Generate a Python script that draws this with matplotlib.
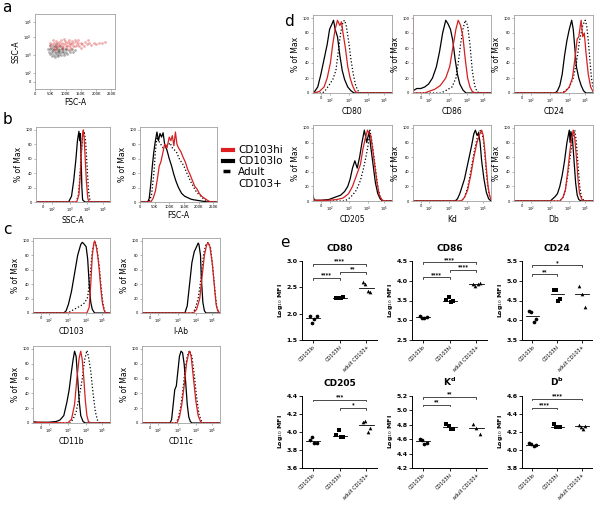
import numpy as np
import matplotlib.pyplot as plt
from matplotlib.lines import Line2D

W, H = 600, 509
fig = plt.figure(figsize=(W / 100, H / 100), dpi=100)

# ---------- panel a: FSC (K) vs SSC (biexp units 0-100) ----------
a_black = [(45, 50), (48, 53), (50, 47), (52, 55), (55, 51), (57, 48), (58, 57), (60, 52), (62, 46),
           (63, 54), (65, 50), (66, 58), (68, 48), (70, 53), (71, 45), (72, 56), (74, 51), (75, 49),
           (77, 54), (78, 47), (80, 52), (82, 57), (83, 50), (85, 46), (87, 53), (88, 49), (90, 55),
           (92, 51), (95, 48), (97, 54), (100, 50), (103, 53), (106, 47), (110, 52), (115, 50),
           (120, 54), (125, 49), (132, 52), (56, 44), (64, 43), (76, 44), (94, 45), (42, 54),
           (50, 59), (68, 60)]
a_red = [(50, 57), (55, 60), (58, 55), (62, 62), (65, 58), (68, 64), (70, 56), (73, 61), (75, 59),
         (78, 63), (80, 57), (82, 60), (85, 65), (87, 58), (90, 62), (92, 56), (95, 60), (97, 64),
         (100, 58), (102, 61), (105, 57), (108, 63), (110, 59), (113, 62), (115, 56), (118, 60),
         (120, 64), (123, 58), (126, 61), (130, 57), (133, 63), (136, 59), (140, 61), (145, 58),
         (150, 62), (155, 60), (160, 57), (165, 63), (170, 60), (178, 61), (185, 59), (192, 62),
         (200, 60), (210, 61), (220, 62), (228, 63), (72, 53), (88, 54), (104, 54), (118, 53),
         (60, 66), (96, 67), (112, 66), (140, 65), (175, 65), (48, 62), (65, 52), (150, 55), (130, 66)]

log_ticks = [10, 21, 46, 69, 90]
log_labels = ["0", "10$^2$", "10$^3$", "10$^4$", "10$^5$"]
fsc_ticks = [0, 50, 100, 150, 200, 250]
fsc_labels = ["0", "50K", "100K", "150K", "200K", "250K"]

# ---------- panel b histograms (x: 0-100 axis units, y: % of max) ----------
ssc_lo = [(0, 0), (44, 0), (48, 8), (51, 30), (54, 60), (56, 85), (58, 98), (59, 85), (60, 95),
          (61, 60), (62, 20), (63, 3), (66, 0), (100, 0)]
ssc_hi = [(0, 0), (55, 0), (58, 10), (60, 40), (62, 80), (63, 95), (64, 100), (65, 90), (66, 70),
          (68, 30), (70, 5), (72, 0), (100, 0)]
ssc_ad = [(0, 0), (54, 0), (57, 8), (59, 30), (61, 65), (63, 90), (65, 98), (67, 85), (69, 50),
          (71, 15), (73, 2), (75, 0), (100, 0)]
fsc_lo = [(0, 0), (10, 0), (12, 5), (14, 25), (16, 50), (18, 70), (20, 85), (22, 97), (24, 85),
          (26, 95), (28, 90), (30, 96), (32, 80), (35, 72), (38, 60), (41, 50), (44, 38), (47, 28),
          (50, 20), (54, 12), (58, 8), (62, 6), (66, 4), (70, 3), (76, 2), (82, 1), (88, 0), (100, 0)]
fsc_hi = [(0, 0), (14, 0), (17, 5), (20, 15), (23, 35), (25, 50), (27, 55), (30, 70), (32, 80),
          (35, 75), (38, 90), (40, 85), (42, 92), (44, 78), (46, 97), (48, 80), (50, 75), (53, 70),
          (56, 62), (59, 55), (62, 45), (65, 38), (68, 30), (71, 22), (74, 18), (77, 12), (80, 8),
          (84, 5), (88, 2), (92, 0), (100, 0)]
fsc_ad = [(0, 0), (12, 0), (15, 10), (18, 40), (20, 70), (22, 90), (24, 85), (27, 80), (30, 75),
          (33, 80), (36, 78), (39, 82), (42, 75), (45, 72), (48, 68), (51, 60), (54, 55), (57, 50),
          (60, 42), (63, 35), (66, 28), (69, 22), (72, 16), (75, 12), (78, 9), (82, 5), (86, 2),
          (90, 0), (100, 0)]

# ---------- panel c ----------
cd103_lo = [(0, 0), (40, 0), (43, 3), (46, 12), (50, 30), (54, 55), (58, 80), (62, 95), (64, 98),
            (66, 96), (69, 92), (71, 75), (73, 40), (75, 15), (77, 5), (80, 0), (100, 0)]
cd103_hi = [(0, 0), (70, 0), (73, 8), (75, 40), (77, 80), (79, 97), (80, 100), (82, 93), (84, 80),
            (86, 60), (88, 35), (90, 15), (92, 5), (94, 0), (100, 0)]
cd103_ad = [(0, 0), (45, 0), (50, 3), (55, 6), (62, 10), (67, 14), (71, 22), (74, 50), (77, 85),
            (79, 95), (81, 98), (83, 90), (86, 65), (89, 30), (91, 12), (93, 3), (95, 0), (100, 0)]
iab_lo = [(0, 0), (55, 0), (58, 10), (61, 40), (64, 70), (67, 85), (70, 92), (72, 97), (73, 95),
          (75, 80), (76, 50), (78, 15), (80, 3), (82, 0), (100, 0)]
iab_hi = [(0, 0), (66, 0), (70, 5), (74, 20), (77, 50), (80, 80), (83, 95), (85, 97), (87, 92),
          (90, 70), (93, 35), (95, 12), (97, 3), (100, 0)]
iab_ad = [(0, 0), (64, 0), (68, 5), (72, 20), (76, 50), (79, 82), (82, 95), (85, 98), (88, 90),
          (91, 60), (94, 25), (96, 8), (98, 2), (100, 0)]
cd11b_lo = [(0, 2), (5, 1), (20, 1), (30, 2), (35, 4), (40, 10), (44, 28), (47, 45), (50, 70),
            (52, 85), (54, 97), (56, 90), (58, 60), (60, 30), (62, 10), (65, 2), (68, 0), (100, 0)]
cd11b_hi = [(0, 1), (45, 0), (50, 5), (54, 25), (57, 60), (60, 88), (62, 97), (64, 85), (66, 60),
            (68, 30), (70, 10), (72, 2), (75, 0), (100, 0)]
cd11b_ad = [(0, 0), (48, 0), (52, 5), (56, 15), (60, 35), (64, 60), (67, 85), (70, 98), (72, 90),
            (75, 70), (78, 40), (81, 15), (84, 3), (87, 0), (100, 0)]
cd11c_lo = [(0, 0), (36, 0), (38, 5), (40, 25), (42, 45), (44, 50), (46, 70), (48, 90), (50, 97),
            (52, 95), (54, 80), (56, 55), (58, 25), (60, 8), (62, 2), (64, 0), (100, 0)]
cd11c_hi = [(0, 0), (45, 0), (48, 8), (51, 25), (54, 50), (57, 80), (60, 95), (61, 97), (63, 90),
            (66, 60), (69, 30), (72, 10), (75, 2), (77, 0), (100, 0)]
cd11c_ad = [(0, 0), (43, 0), (46, 5), (49, 18), (52, 40), (55, 70), (58, 90), (61, 98), (64, 90),
            (67, 65), (70, 35), (73, 12), (76, 3), (79, 0), (100, 0)]

# ---------- panel d ----------
cd80_lo = [(0, 0), (2, 2), (6, 8), (10, 25), (14, 45), (18, 65), (21, 85), (24, 92), (26, 97),
           (28, 85), (31, 75), (34, 50), (37, 30), (40, 18), (44, 8), (48, 3), (52, 0), (100, 0)]
cd80_hi = [(0, 0), (8, 2), (14, 8), (18, 20), (22, 40), (25, 65), (28, 85), (31, 97), (34, 90),
           (36, 95), (38, 80), (41, 60), (44, 35), (47, 20), (50, 10), (53, 3), (56, 0), (100, 0)]
cd80_ad = [(0, 0), (12, 0), (16, 4), (20, 10), (25, 18), (29, 30), (32, 55), (35, 80), (38, 95),
           (40, 97), (42, 90), (45, 70), (48, 45), (51, 25), (54, 10), (57, 3), (60, 0), (100, 0)]
cd86_lo = [(0, 3), (5, 6), (10, 6), (15, 8), (20, 12), (25, 20), (30, 35), (34, 55), (38, 80),
           (42, 97), (45, 92), (48, 85), (51, 70), (54, 45), (57, 25), (60, 12), (64, 4), (68, 0),
           (100, 0)]
cd86_hi = [(0, 100), (0.5, 0), (15, 0), (20, 2), (28, 5), (35, 10), (42, 20), (47, 35), (51, 60),
           (55, 85), (58, 97), (61, 90), (64, 75), (67, 45), (70, 20), (73, 8), (76, 2), (80, 0),
           (100, 0)]
cd86_ad = [(0, 0), (35, 0), (40, 2), (45, 5), (50, 8), (55, 20), (58, 40), (61, 65), (64, 85),
           (67, 97), (70, 90), (73, 65), (76, 30), (79, 10), (82, 2), (85, 0), (100, 0)]
cd24_lo = [(0, 0), (52, 0), (55, 3), (58, 10), (61, 25), (64, 50), (67, 70), (70, 85), (73, 97),
           (75, 85), (77, 60), (79, 35), (82, 20), (85, 10), (88, 3), (91, 0), (100, 0)]
cd24_hi = [(0, 0), (62, 0), (66, 3), (70, 8), (74, 20), (77, 45), (80, 72), (82, 75), (84, 90),
           (85, 97), (87, 75), (89, 80), (91, 55), (94, 25), (97, 8), (100, 2)]
cd24_ad = [(0, 0), (60, 0), (65, 3), (70, 8), (75, 20), (79, 40), (83, 70), (87, 90), (90, 97),
           (92, 90), (94, 70), (96, 45), (98, 20), (100, 8)]
cd205_lo = [(0, 8), (1, 3), (3, 1), (10, 1), (20, 2), (25, 4), (30, 6), (35, 8), (40, 13), (44, 20),
            (47, 30), (50, 45), (53, 55), (56, 45), (59, 60), (62, 80), (65, 97), (68, 80), (71, 95),
            (73, 75), (76, 50), (79, 25), (82, 10), (85, 3), (88, 0), (100, 0)]
cd205_hi = [(0, 3), (2, 1), (20, 1), (30, 2), (38, 4), (45, 10), (50, 20), (55, 35), (60, 50),
            (63, 70), (66, 85), (69, 97), (71, 92), (73, 90), (75, 75), (78, 50), (81, 25), (84, 8),
            (87, 2), (90, 0), (100, 0)]
cd205_ad = [(0, 0), (40, 0), (45, 3), (50, 8), (55, 15), (60, 28), (64, 45), (67, 60), (70, 78),
            (72, 97), (74, 85), (76, 70), (79, 45), (82, 20), (85, 5), (88, 0), (100, 0)]
kd_lo = [(0, 0), (54, 0), (57, 3), (60, 10), (63, 20), (66, 30), (69, 45), (72, 60), (75, 75),
         (78, 92), (80, 97), (82, 90), (84, 93), (86, 80), (88, 55), (91, 30), (94, 12), (97, 3),
         (100, 0)]
kd_hi = [(0, 0), (62, 0), (66, 5), (70, 15), (74, 35), (78, 60), (82, 80), (85, 90), (88, 97),
         (90, 90), (92, 70), (94, 45), (96, 22), (98, 8), (100, 2)]
kd_ad = [(0, 0), (62, 0), (66, 5), (70, 18), (74, 40), (78, 65), (82, 85), (85, 97), (88, 95),
         (90, 85), (92, 65), (94, 40), (96, 20), (98, 8), (100, 2)]
db_lo = [(0, 0), (46, 0), (49, 3), (52, 6), (55, 10), (58, 20), (61, 35), (64, 55), (67, 80),
         (70, 97), (71, 80), (72, 95), (74, 85), (76, 55), (78, 25), (80, 8), (82, 2), (85, 0),
         (100, 0)]
db_hi = [(0, 0), (58, 0), (62, 5), (65, 15), (68, 40), (71, 70), (73, 85), (75, 97), (77, 85),
         (79, 60), (81, 30), (83, 10), (86, 2), (89, 0), (100, 0)]
db_ad = [(0, 0), (58, 0), (62, 5), (65, 15), (68, 35), (71, 60), (73, 75), (75, 90), (77, 97),
         (79, 80), (81, 50), (83, 22), (85, 7), (88, 1), (91, 0), (100, 0)]

# ---------- panel e: log10 MFI ----------
groups = ["CD103lo", "CD103hi", "adult CD103+"]
e_titles = ["CD80", "CD86", "CD24", "CD205", "K$^\\mathbf{d}$", "D$^\\mathbf{b}$"]
mfi_cd80 = [[1.96, 1.82, 1.90, 1.95], [2.30, 2.29, 2.29, 2.31], [2.61, 2.56, 2.43, 2.42]]
mfi_cd86 = [[3.10, 3.05, 3.05, 3.09], [3.52, 3.58, 3.47, 3.48], [3.93, 3.87, 3.93, 3.94]]
mfi_cd24 = [[4.23, 4.21, 3.96, 4.02], [4.77, 4.77, 4.50, 4.55], [4.87, 4.66, 4.34]]
mfi_cd205 = [[3.91, 3.95, 3.88, 3.88], [3.97, 4.02, 3.94, 3.95], [4.11, 4.12, 4.00, 4.05]]
mfi_kd = [[4.60, 4.59, 4.54, 4.55], [4.81, 4.79, 4.74, 4.74], [4.81, 4.75, 4.67]]
mfi_db = [[4.08, 4.07, 4.04, 4.05], [4.29, 4.26, 4.25, 4.25], [4.28, 4.26, 4.23, 4.27]]
e_ylims = [(1.5, 3.0), (2.5, 4.5), (3.5, 5.5), (3.6, 4.4), (4.2, 5.2), (3.8, 4.6)]
e_ysteps = [0.5, 0.5, 0.5, 0.2, 0.2, 0.2]
# (group a, group b, height, stars)
sig_cd80 = [(0, 2, 2.95, "****"), (0, 1, 2.68, "****"), (1, 2, 2.80, "**")]
sig_cd86 = [(0, 2, 4.47, "****"), (0, 1, 4.09, "****"), (1, 2, 4.28, "****")]
sig_cd24 = [(0, 2, 5.39, "*"), (0, 1, 5.16, "**")]
sig_cd205 = [(0, 2, 4.36, "***"), (1, 2, 4.27, "*")]
sig_kd = [(0, 2, 5.19, "**"), (0, 1, 5.08, "**")]
sig_db = [(0, 2, 4.57, "****"), (0, 1, 4.47, "****")]


def px_axes(l, t, r, b):
    return fig.add_axes([l / W, 1 - b / H, (r - l) / W, (b - t) / H])


def frame(ax):
    for s in ax.spines.values():
        s.set_color("#a0a0a0")
        s.set_linewidth(0.6)
    ax.tick_params(length=1.5, width=0.4, color="#808080", labelsize=2.6, pad=1)


def hist_panel(box, lo, hi, ad, xlabel, linear=False):
    ax = px_axes(*box)
    for crv, col, ls in [(lo, "black", "-"), (ad, "black", ":"), (hi, "#d42020", "-")]:
        ax.plot([p[0] for p in crv], [p[1] for p in crv], color=col, ls=ls, lw=0.9)
    ax.set_xlim(0, 100)
    ax.set_ylim(0, 104)
    if linear:
        ax.set_xticks([v / 262 * 100 for v in fsc_ticks])
        ax.set_xticklabels(fsc_labels)
    else:
        ax.set_xticks(log_ticks)
        ax.set_xticklabels(log_labels)
    ax.set_yticks([0, 20, 40, 60, 80, 100])
    frame(ax)
    ax.set_xlabel(xlabel, fontsize=5.5, labelpad=1)
    ax.set_ylabel("% of Max", fontsize=5.5, labelpad=2)
    return ax


# panel a
ax = px_axes(35, 14, 115, 89)
ax.scatter([p[0] for p in a_black], [p[1] for p in a_black], s=4, color="#222222", alpha=0.35, lw=0)
ax.scatter([p[0] for p in a_red], [p[1] for p in a_red], s=4, color="#d42020", alpha=0.35, lw=0)
ax.set_xlim(0, 262)
ax.set_ylim(0, 100)
ax.set_xticks(fsc_ticks)
ax.set_xticklabels(fsc_labels)
ax.set_yticks(log_ticks)
ax.set_yticklabels(log_labels)
frame(ax)
ax.set_xlabel("FSC-A", fontsize=5.5, labelpad=1)
ax.set_ylabel("SSC-A", fontsize=5.5, labelpad=2)

# panel b
hist_panel((36, 127, 110, 202), ssc_lo, ssc_hi, ssc_ad, "SSC-A")
hist_panel((140, 127, 217, 202), fsc_lo, fsc_hi, fsc_ad, "FSC-A", linear=True)

# legend
fig.add_artist(Line2D([223 / W, 233 / W], [1 - 150 / H] * 2, color="#e02020", lw=3))
fig.add_artist(Line2D([223 / W, 233 / W], [1 - 161 / H] * 2, color="black", lw=3))
fig.add_artist(Line2D([223 / W, 233 / W], [1 - 171 / H] * 2, color="black", lw=2.5,
                      ls=(0, (2, 1, 0.6, 1))))
for txt, y in [("CD103hi", 150), ("CD103lo", 161), ("Adult", 172), ("CD103+", 184)]:
    fig.text(238 / W, 1 - y / H, txt, fontsize=7.5, va="center", ha="left")

# panel c
hist_panel((33, 238, 110, 313), cd103_lo, cd103_hi, cd103_ad, "CD103")
hist_panel((142, 238, 220, 313), iab_lo, iab_hi, iab_ad, "I-Ab")
hist_panel((33, 346, 110, 423), cd11b_lo, cd11b_hi, cd11b_ad, "CD11b")
hist_panel((142, 346, 220, 423), cd11c_lo, cd11c_hi, cd11c_ad, "CD11c")

# panel d
d_cols = [(313, 392), (413, 491), (514, 593)]
d_rows = [(15, 93), (125, 201)]
d_sets = [(cd80_lo, cd80_hi, cd80_ad, "CD80"), (cd86_lo, cd86_hi, cd86_ad, "CD86"),
          (cd24_lo, cd24_hi, cd24_ad, "CD24"), (cd205_lo, cd205_hi, cd205_ad, "CD205"),
          (kd_lo, kd_hi, kd_ad, "Kd"), (db_lo, db_hi, db_ad, "Db")]
for i, (lo, hi, ad, lab) in enumerate(d_sets):
    (l, r), (t, b) = d_cols[i % 3], d_rows[i // 3]
    hist_panel((l, t, r, b), lo, hi, ad, lab)

# panel e
e_cols = [(302, 377), (412, 487), (522, 592)]
e_rows = [(261, 340), (396, 468)]
e_data = [mfi_cd80, mfi_cd86, mfi_cd24, mfi_cd205, mfi_kd, mfi_db]
e_sigs = [sig_cd80, sig_cd86, sig_cd24, sig_cd205, sig_kd, sig_db]
markers = ["o", "s", "^"]
for i, (vals, sigs) in enumerate(zip(e_data, e_sigs)):
    (l, r), (t, b) = e_cols[i % 3], e_rows[i // 3]
    ax = px_axes(l, t, r, b)
    for g, pts in enumerate(vals):
        n = len(pts)
        offs = np.linspace(-0.13, 0.13, n) if n > 1 else [0]
        ax.scatter(g + np.array(offs), pts, marker=markers[g], s=7, color="black", lw=0, zorder=3)
        ax.plot([g - 0.27, g + 0.27], [np.median(pts)] * 2, color="black", lw=0.6)
    lo_lim, hi_lim = e_ylims[i]
    span = hi_lim - lo_lim
    for ga, gb, h, stars in sigs:
        tick = span * 0.025
        ax.plot([ga, ga, gb, gb], [h - tick, h, h, h - tick], color="black", lw=0.5, clip_on=False)
        ax.text((ga + gb) / 2, h + span * 0.005, stars, ha="center", va="bottom",
                fontsize=3.8, fontweight="bold")
    ax.set_xlim(-0.42, 2.4)
    ax.set_ylim(lo_lim, hi_lim)
    ax.set_yticks(np.round(np.arange(lo_lim, hi_lim + 1e-6, e_ysteps[i]), 1))
    ax.set_yticklabels([f"{v:.1f}" for v in ax.get_yticks()], fontweight="bold")
    ax.set_xticks([0, 1, 2])
    ax.set_xticklabels(groups, rotation=45, ha="right", rotation_mode="anchor", fontsize=3.5)
    ax.spines["top"].set_visible(False)
    ax.spines["right"].set_visible(False)
    for s in ["left", "bottom"]:
        ax.spines[s].set_linewidth(0.7)
    ax.tick_params(axis="y", length=2, width=0.6, labelsize=4.5, pad=1)
    ax.tick_params(axis="x", length=2, width=0.6, pad=1)
    ax.set_ylabel("Log$_{10}$ MFI", fontsize=4.5, fontweight="bold", labelpad=1)
    ax.set_title(e_titles[i], fontsize=6.5, fontweight="bold", pad=7)

# panel letters
for letter, x, y in [("a", 7, 8), ("b", 7, 120), ("c", 7, 230), ("d", 289, 22), ("e", 285, 243)]:
    fig.text(x / W, 1 - y / H, letter, fontsize=11, va="center", ha="center")

fig.savefig("out.png", dpi=100)
